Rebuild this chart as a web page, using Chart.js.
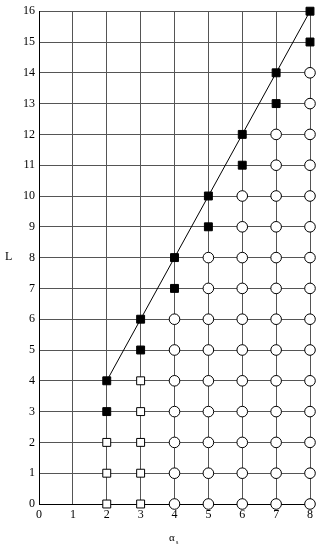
<!DOCTYPE html>
<html>
<head>
<meta charset="utf-8">
<script src="https://cdn.jsdelivr.net/npm/chart.js@4"></script>
<style>
  html, body { margin: 0; padding: 0; background: #fff; }
  #wrap { width: 317px; height: 545px; }
</style>
</head>
<body>
<div id="wrap"><canvas id="chart" width="317" height="545"></canvas></div>
<script>
// Points (alpha_s, L)
const filledSquares = [
  [2, 3], [2, 4], [3, 5], [3, 6], [4, 7], [4, 8], [5, 9], [5, 10],
  [6, 11], [6, 12], [7, 13], [7, 14], [8, 15], [8, 16]
];
const openSquares = [
  [2, 0], [2, 1], [2, 2], [3, 0], [3, 1], [3, 2], [3, 3], [3, 4]
];
const openCircles = [
  [4, 0], [4, 1], [4, 2], [4, 3], [4, 4], [4, 5], [4, 6],
  [5, 0], [5, 1], [5, 2], [5, 3], [5, 4], [5, 5], [5, 6], [5, 7], [5, 8],
  [6, 0], [6, 1], [6, 2], [6, 3], [6, 4], [6, 5], [6, 6], [6, 7], [6, 8], [6, 9], [6, 10],
  [7, 0], [7, 1], [7, 2], [7, 3], [7, 4], [7, 5], [7, 6], [7, 7], [7, 8], [7, 9], [7, 10], [7, 11], [7, 12],
  [8, 0], [8, 1], [8, 2], [8, 3], [8, 4], [8, 5], [8, 6], [8, 7], [8, 8], [8, 9], [8, 10], [8, 11], [8, 12], [8, 13], [8, 14]
];
const boundaryLine = [[2, 4], [8, 16]];

const xTitle = 'α';
const xTitleSub = 's';
const yTitle = 'L';

const FONT = "'Liberation Serif', 'DejaVu Serif', serif";

function toXY(arr) {
  return arr.map(p => ({ x: p[0], y: p[1] }));
}

// axis titles drawn by hand so alpha can carry a subscript
const titlesPlugin = {
  id: 'titles',
  afterDraw(chart) {
    const ctx = chart.ctx;
    ctx.save();
    ctx.fillStyle = '#000';
    ctx.textBaseline = 'alphabetic';
    ctx.font = '12px ' + FONT;
    ctx.fillText(yTitle, 5, 260);
    ctx.font = '11px ' + FONT;
    ctx.fillText(xTitle, 169, 541);
    ctx.font = '6px ' + FONT;
    ctx.fillText(xTitleSub, 176, 544);
    ctx.restore();
  }
};

new Chart(document.getElementById('chart'), {
  type: 'scatter',
  data: {
    datasets: [
      {
        type: 'line',
        data: toXY(boundaryLine),
        borderColor: '#000',
        borderWidth: 1,
        pointRadius: 0,
        order: 3
      },
      {
        data: toXY(openCircles),
        pointStyle: 'circle',
        pointRadius: 5.3,
        backgroundColor: '#fff',
        borderColor: '#000',
        borderWidth: 1,
        order: 2
      },
      {
        data: toXY(openSquares),
        pointStyle: 'rect',
        pointRadius: 5.6,
        backgroundColor: '#fff',
        borderColor: '#000',
        borderWidth: 1,
        order: 1
      },
      {
        data: toXY(filledSquares),
        pointStyle: 'rect',
        pointRadius: 5.6,
        backgroundColor: '#000',
        borderColor: '#000',
        borderWidth: 1,
        order: 0
      }
    ]
  },
  options: {
    responsive: false,
    animation: false,
    clip: false,
    layout: { padding: { top: 5, right: 4, left: 0, bottom: 0 } },
    plugins: { legend: { display: false }, tooltip: { enabled: false } },
    scales: {
      x: {
        type: 'linear',
        min: 0, max: 8,
        afterFit(scale) { scale.height = 41; },
        ticks: { stepSize: 1, color: '#000', padding: 4, font: { family: FONT, size: 12 } },
        grid: { color: '#555', lineWidth: 1, drawTicks: false },
        border: { color: '#000', width: 1 }
      },
      y: {
        min: 0, max: 16,
        afterFit(scale) { scale.width = 39; },
        ticks: { stepSize: 1, color: '#000', padding: 4, font: { family: FONT, size: 12 } },
        grid: { color: '#555', lineWidth: 1, drawTicks: false },
        border: { color: '#000', width: 1 }
      }
    }
  },
  plugins: [titlesPlugin]
});
</script>
</body>
</html>
